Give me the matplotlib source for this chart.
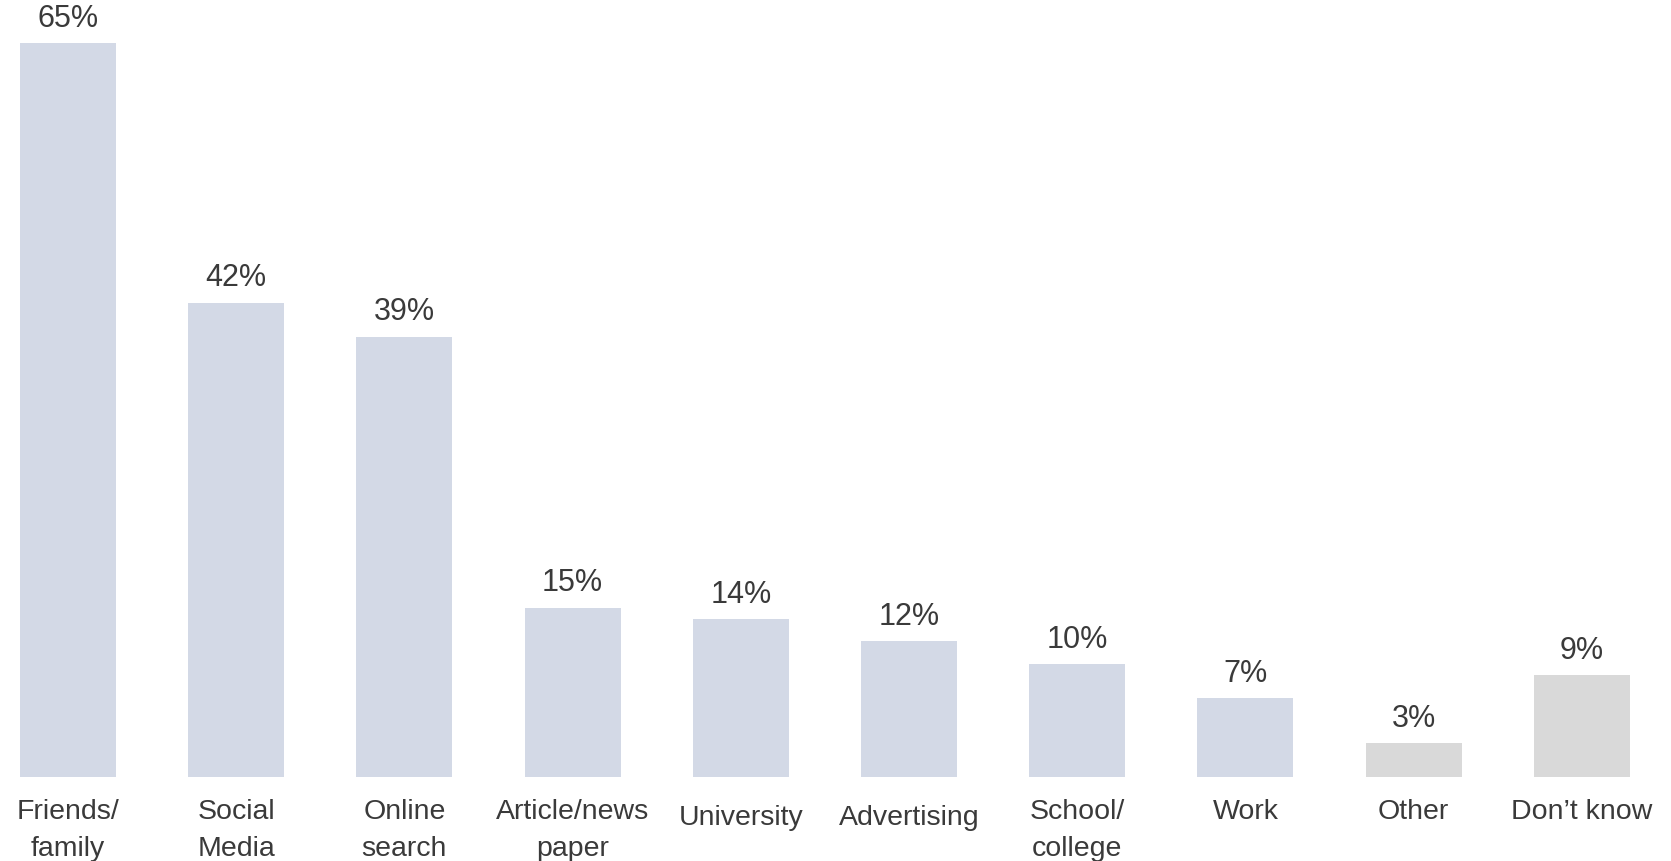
import matplotlib.pyplot as plt

categories = ["Friends/\nfamily", "Social\nMedia", "Online\nsearch", "Article/news\npaper",
              "University", "Advertising", "School/\ncollege", "Work", "Other", "Don\u2019t know"]
values = [65, 42, 39, 15, 14, 12, 10, 7, 3, 9]
colors = ["#D3D9E6"] * 8 + ["#D9D9D9"] * 2

text_color = "#3a3a3a"
plt.rcParams["font.family"] = ["Liberation Sans", "DejaVu Sans"]

fig = plt.figure(figsize=(16.71, 8.62), dpi=100)
ax = fig.add_axes([0, 84 / 862, 1, (778 - 44) / 862])

x = list(range(len(categories)))
bars = ax.bar(x, values, width=0.57, color=colors)

ax.set_xlim(-68 / 168.2, (1671 - 68) / 168.2)
ax.set_ylim(0, 65)

for rect, v in zip(bars, values):
    ax.annotate(f"{v}%", (rect.get_x() + rect.get_width() / 2, v),
                xytext=(0, 12.5), textcoords="offset points",
                ha="center", va="baseline", fontsize=22, color=text_color)

ax.set_xticks(x)
ax.set_xticklabels(categories, fontsize=20.5, color=text_color, linespacing=1.55)
for lab in ax.get_xticklabels():
    if lab.get_text() in ("University", "Advertising"):
        lab.set_y(-0.008)
ax.tick_params(axis="x", length=0, pad=15)
ax.tick_params(axis="y", left=False, labelleft=False)
for s in ax.spines.values():
    s.set_visible(False)

plt.savefig("out.png", dpi=100)
plt.close()
